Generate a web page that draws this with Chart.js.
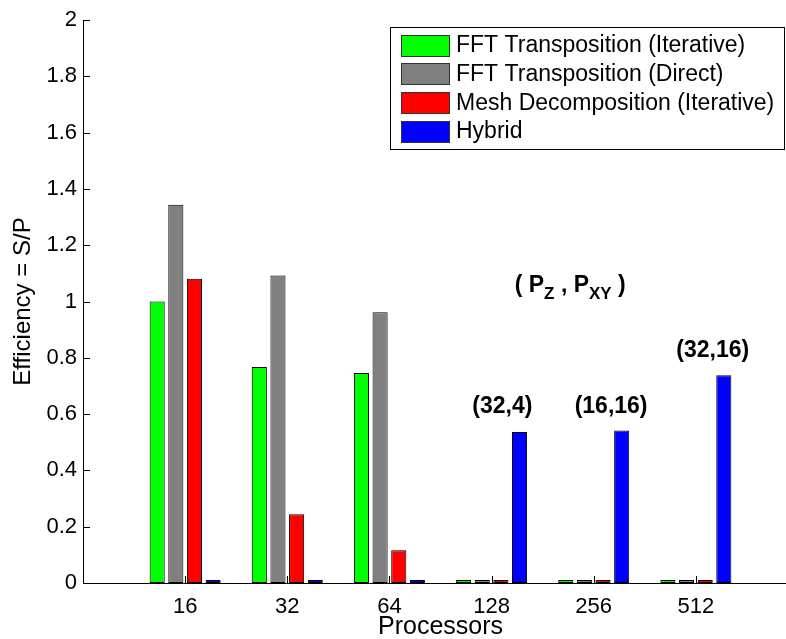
<!DOCTYPE html>
<html>
<head>
<meta charset="utf-8">
<script src="https://cdn.jsdelivr.net/npm/chart.js@4.4.1/dist/chart.umd.min.js"></script>
<style>
  html, body { margin: 0; padding: 0; background: #fff; overflow: hidden; width: 786px; height: 639px; }
  canvas { display: block; }
</style>
</head>
<body>
<canvas id="chart" width="809" height="639"></canvas>
<script>
// Processor counts on the x axis
const processors = ['16', '32', '64', '128', '256', '512'];

// Parallel efficiency (speed-up / processors) per method
const fftIterative  = [1.000, 0.767, 0.746, 0, 0, 0];
const fftDirect     = [1.344, 1.092, 0.962, 0, 0, 0];
const meshIterative = [1.081, 0.244, 0.116, 0, 0, 0];
const hybrid        = [0, 0, 0, 0.536, 0.542, 0.738];

const seriesNames = [
  'FFT Transposition (Iterative)',
  'FFT Transposition (Direct)',
  'Mesh Decomposition (Iterative)',
  'Hybrid'
];

// (P_Z, P_XY) decomposition used by the hybrid runs
const hybridDecomp = ['', '', '', '(32,4)', '(16,16)', '(32,16)'];

// y-axis tick values
const yTickValues = [0, 0.2, 0.4, 0.6, 0.8, 1, 1.2, 1.4, 1.6, 1.8, 2];

const FONT = "'Liberation Sans', Arial, Helvetica, sans-serif";
const colors = ['#00ff00', '#808080', '#ff0000', '#0000ff'];
const seriesData = [fftIterative, fftDirect, meshIterative, hybrid];

// pad the category axis with an empty slot on each side
const pad = arr => [null, ...arr, null];
const axisLabels = ['', ...processors, ''];

// where each decomposition label sits: category offset and height (data units)
const decompPlacement = {
  3: { dx: 0.105, y: 0.627 },
  4: { dx: 0.17,  y: 0.627 },
  5: { dx: 0.165, y: 0.826 }
};

const decorations = {
  id: 'decorations',
  afterDraw(chart) {
    const ctx = chart.ctx;
    const xs = chart.scales.x, ys = chart.scales.y;
    const area = chart.chartArea;
    const tickLen = 7;
    ctx.save();
    ctx.strokeStyle = '#000';
    ctx.lineWidth = 1;
    // inward ticks on the y axis
    yTickValues.forEach(v => {
      const y = Math.round(ys.getPixelForValue(v)) + 0.5;
      ctx.beginPath();
      ctx.moveTo(area.left, y);
      ctx.lineTo(area.left + tickLen, y);
      ctx.stroke();
    });
    // inward ticks on the x axis
    processors.forEach((p, i) => {
      const x = Math.round(xs.getPixelForValue(i + 1)) + 0.5;
      ctx.beginPath();
      ctx.moveTo(x, area.bottom);
      ctx.lineTo(x, area.bottom - tickLen);
      ctx.stroke();
    });

    // decomposition labels above the hybrid bars
    const step = xs.getPixelForValue(2) - xs.getPixelForValue(1);
    ctx.fillStyle = '#000';
    ctx.font = 'bold 23px ' + FONT;
    ctx.textAlign = 'center';
    ctx.textBaseline = 'middle';
    hybridDecomp.forEach((txt, i) => {
      if (!txt) return;
      const pl = decompPlacement[i];
      const x = xs.getPixelForValue(i + 1) + pl.dx * step;
      const y = ys.getPixelForValue(pl.y);
      ctx.fillText(txt, x, y);
    });

    // "( P_Z , P_XY )" heading
    const parts = [
      { t: '( P', sub: false }, { t: 'Z', sub: true },
      { t: ' , P', sub: false }, { t: 'XY', sub: true },
      { t: ' )', sub: false }
    ];
    const mainFont = 'bold 23px ' + FONT, subFont = 'bold 17px ' + FONT;
    let total = 0;
    parts.forEach(p => { ctx.font = p.sub ? subFont : mainFont; total += ctx.measureText(p.t).width; });
    let hx = xs.getPixelForValue(4.77) - total / 2;
    const hy = ys.getPixelForValue(1.032);
    ctx.textAlign = 'left';
    ctx.textBaseline = 'alphabetic';
    parts.forEach(p => {
      ctx.font = p.sub ? subFont : mainFont;
      ctx.fillText(p.t, hx, hy + (p.sub ? 7 : 0));
      hx += ctx.measureText(p.t).width;
    });

    // legend box
    const lx = 390, ly = 27, lw = 394, lh = 122;
    ctx.fillStyle = '#fff';
    ctx.fillRect(lx, ly, lw, lh);
    ctx.strokeStyle = '#000';
    ctx.strokeRect(lx + 0.5, ly + 0.5, lw, lh);
    ctx.font = '23px ' + FONT;
    ctx.textBaseline = 'middle';
    seriesNames.forEach((name, i) => {
      const cy = 45 + i * 28.7;
      ctx.fillStyle = colors[i];
      ctx.fillRect(401, Math.round(cy - 10.5), 48, 21);
      ctx.strokeStyle = '#333';
      ctx.strokeRect(401.5, Math.round(cy - 10.5) + 0.5, 48, 21);
      ctx.fillStyle = '#000';
      ctx.fillText(name, 456, cy + 1);
    });
    ctx.restore();
  }
};

new Chart(document.getElementById('chart'), {
  type: 'bar',
  data: {
    labels: axisLabels,
    datasets: seriesData.map((d, i) => ({
      label: seriesNames[i],
      data: pad(d),
      backgroundColor: colors[i],
      borderColor: '#000',
      borderWidth: 1,
      borderSkipped: false,
      minBarLength: 3,
      categoryPercentage: 0.73,
      barPercentage: 0.81
    }))
  },
  options: {
    responsive: false,
    animation: false,
    devicePixelRatio: 1,
    layout: { padding: { top: 20, right: 0, left: 0, bottom: 0 } },
    plugins: { legend: { display: false }, tooltip: { enabled: false } },
    scales: {
      x: {
        offset: false,
        grid: { display: false, drawTicks: false },
        border: { display: true, color: '#000', width: 1 },
        ticks: {
          color: '#000', padding: 11, autoSkip: false, maxRotation: 0,
          font: { family: FONT, size: 22 }
        },
        title: {
          display: true, text: 'Processors', color: '#000',
          font: { family: FONT, size: 25 }, padding: { top: 0, bottom: -3 }
        },
        afterFit: s => { s.height = 56; }
      },
      y: {
        min: 0, max: 2,
        grid: { display: false, drawTicks: false },
        border: { display: true, color: '#000', width: 1 },
        afterBuildTicks: s => { s.ticks = yTickValues.map(v => ({ value: v })); },
        ticks: {
          color: '#000', padding: 6,
          font: { family: FONT, size: 22 },
          callback: v => String(Number(v.toFixed(1)))
        },
        title: {
          display: true, text: 'Efficiency = S/P', color: '#000',
          font: { family: FONT, size: 24 }, padding: { top: 9, bottom: 0 }
        },
        afterFit: s => { s.width = 83; }
      }
    }
  },
  plugins: [decorations]
});
</script>
</body>
</html>
